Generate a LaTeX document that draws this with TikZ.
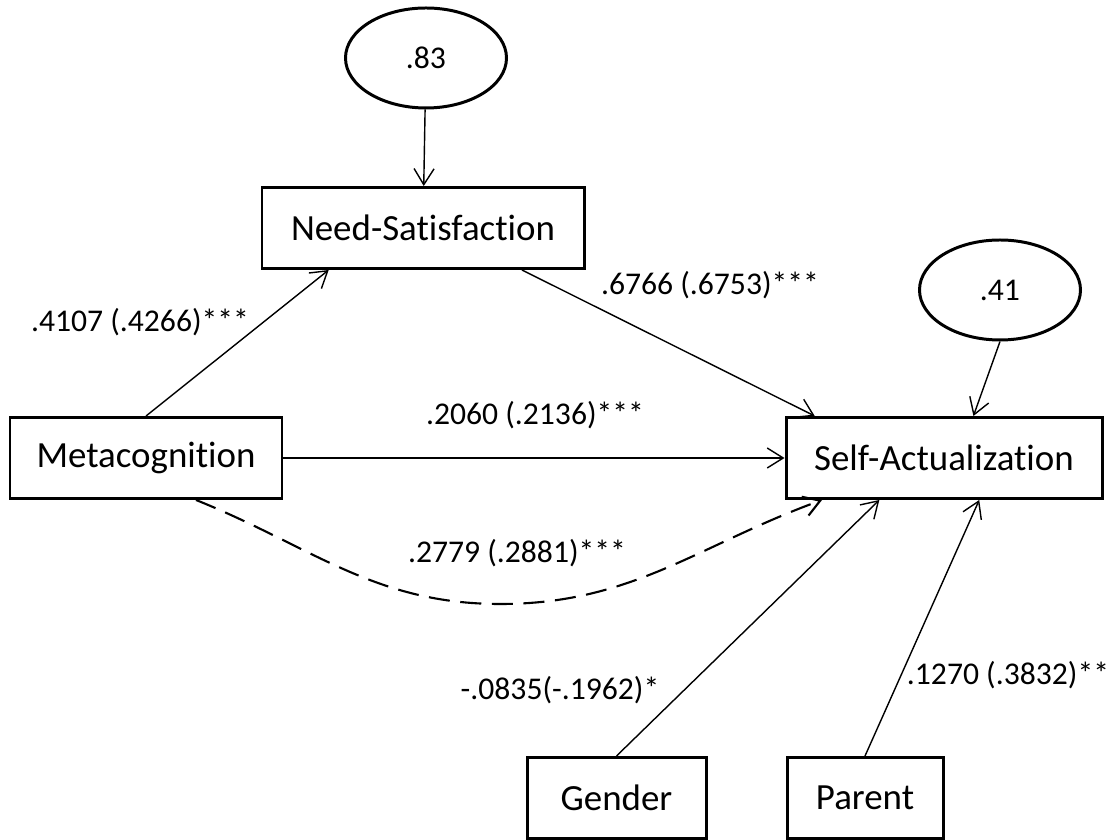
\documentclass[tikz,border=0pt]{standalone}
\usepackage{fontspec}
\setmainfont{Carlito}[Ligatures=NoCommon]
\usepackage{tikz}
\usetikzlibrary{arrows.meta, calc, shapes.geometric}
\def\boxH{1.62cm}
\def\ellW{3.22cm}
\def\ellH{2cm}
\begin{document}
\begin{tikzpicture}[
    >={Straight Barb[length=3.2mm,width=4mm]},
    var/.style={rectangle, draw, line width=1.7pt, minimum height=\boxH,
        font=\fontsize{21}{25}\selectfont, inner sep=0pt},
    resid/.style={ellipse, draw, line width=1.7pt, minimum width=\ellW,
        minimum height=\ellH, font=\fontsize{18}{22}\selectfont},
    coef/.style={font=\fontsize{18}{22}\selectfont, inner sep=0pt},
    path/.style={->, line width=0.8pt}
]
\useasboundingbox (0,0) rectangle (22.34,16.8);

% variables
\node[var, minimum width=6.44cm] (need) at (8.46,12.24) {Need-Satisfaction};
\node[var, minimum width=5.44cm] (meta) at (2.92,7.64) {Metacognition};
\node[var, minimum width=6.32cm] (self) at (18.88,7.64) {Self-Actualization};
\node[var, minimum width=3.58cm] (gender) at (12.33,0.84) {Gender};
\node[var, minimum width=3.12cm] (parent) at (17.3,0.84) {Parent};

% residuals
\node[resid] (r83) at (8.52,15.64) {.83};
\node[resid] (r41) at (20.0,11.0) {.41};

% paths
\draw[path] (r83) -- (need);
\draw[path] (r41.south) -- (self.55);
\draw[path] (meta.north) -- (need.204);
\draw[path] (need.-23) -- (self.162);
\draw[path] (meta.east) -- (self.west);
\draw[path, line width=1.2pt, dash pattern=on 12pt off 6pt]
    (meta.-40) to[out=-22,in=180] (10.0,4.72) to[out=0,in=-160] (self.199);
\draw[path] (gender.north) -- (self.213);
\draw[path] (parent.north) -- (self.-50);

% coefficients
\node[coef] (cMN) at (2.8,10.36) {.4107 (.4266)***};
\node[coef] (cNS) at (14.2,11.1) {.6766 (.6753)***};
\node[coef] (cMS) at (10.7,8.5) {.2060 (.2136)***};
\node[coef] (cInd) at (10.34,5.74) {.2779 (.2881)***};
\node[coef] (cGS) at (11.2,3.0) {-.0835(-.1962)*};
\node[coef] (cPS) at (20.16,3.3) {.1270 (.3832)**};
\end{tikzpicture}
\end{document}
